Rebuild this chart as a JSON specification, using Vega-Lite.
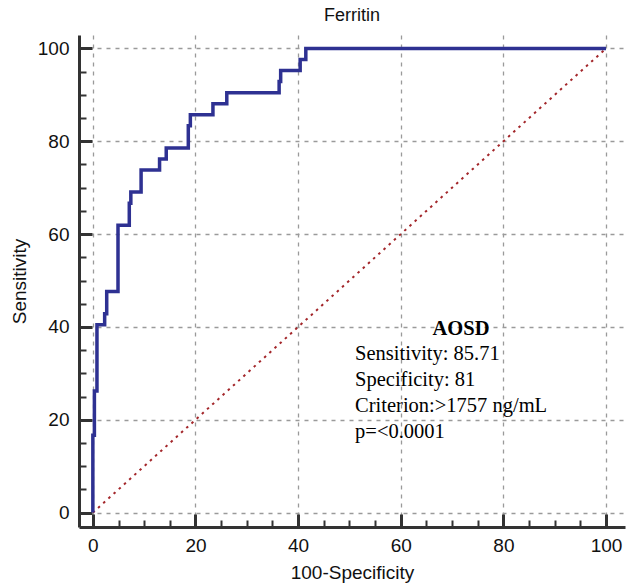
{
  "$schema": "https://vega.github.io/schema/vega-lite/v6.json",
  "width": 546,
  "height": 492,
  "autosize": {"type": "none"},
  "padding": {"left": 79, "top": 35, "right": 2, "bottom": 58},
  "background": "white",
  "title": {"text": "Ferritin", "font": "Liberation Sans", "fontSize": 18, "fontWeight": "normal", "color": "#111", "offset": 10, "anchor": "middle"},
  "config": {"view": {"stroke": null}},
  "datasets": {
    "roc": [
      {"i": 1, "fpr": 0, "sens": 0},
      {"i": 2, "fpr": 0, "sens": 16.67},
      {"i": 3, "fpr": 0.3, "sens": 16.67},
      {"i": 4, "fpr": 0.3, "sens": 26.19},
      {"i": 5, "fpr": 0.8, "sens": 26.19},
      {"i": 6, "fpr": 0.8, "sens": 40.48},
      {"i": 7, "fpr": 2.3, "sens": 40.48},
      {"i": 8, "fpr": 2.3, "sens": 42.86},
      {"i": 9, "fpr": 2.7, "sens": 42.86},
      {"i": 10, "fpr": 2.7, "sens": 47.62},
      {"i": 11, "fpr": 4.9, "sens": 47.62},
      {"i": 12, "fpr": 4.9, "sens": 61.9},
      {"i": 13, "fpr": 7.1, "sens": 61.9},
      {"i": 14, "fpr": 7.1, "sens": 66.67},
      {"i": 15, "fpr": 7.4, "sens": 66.67},
      {"i": 16, "fpr": 7.4, "sens": 69.05},
      {"i": 17, "fpr": 9.4, "sens": 69.05},
      {"i": 18, "fpr": 9.4, "sens": 73.81},
      {"i": 19, "fpr": 13.0, "sens": 73.81},
      {"i": 20, "fpr": 13.0, "sens": 76.19},
      {"i": 21, "fpr": 14.3, "sens": 76.19},
      {"i": 22, "fpr": 14.3, "sens": 78.57},
      {"i": 23, "fpr": 18.6, "sens": 78.57},
      {"i": 24, "fpr": 18.6, "sens": 83.33},
      {"i": 25, "fpr": 19.0, "sens": 83.33},
      {"i": 26, "fpr": 19.0, "sens": 85.71},
      {"i": 27, "fpr": 23.4, "sens": 85.71},
      {"i": 28, "fpr": 23.4, "sens": 88.1},
      {"i": 29, "fpr": 26.1, "sens": 88.1},
      {"i": 30, "fpr": 26.1, "sens": 90.48},
      {"i": 31, "fpr": 36.3, "sens": 90.48},
      {"i": 32, "fpr": 36.3, "sens": 92.86},
      {"i": 33, "fpr": 36.6, "sens": 92.86},
      {"i": 34, "fpr": 36.6, "sens": 95.24},
      {"i": 35, "fpr": 40.4, "sens": 95.24},
      {"i": 36, "fpr": 40.4, "sens": 97.62},
      {"i": 37, "fpr": 41.5, "sens": 97.62},
      {"i": 38, "fpr": 41.5, "sens": 100},
      {"i": 39, "fpr": 100, "sens": 100}
    ],
    "diag": [
      {"fpr": 0, "sens": 0},
      {"fpr": 100, "sens": 100}
    ],
    "head": [
      {"fpr": 71.75, "sens": 39.56, "label": "AOSD"}
    ],
    "notes": [
      {"fpr": 51.1, "sens": 34.18, "label": "Sensitivity: 85.71"},
      {"fpr": 51.1, "sens": 28.58, "label": "Specificity: 81"},
      {"fpr": 51.1, "sens": 22.98, "label": "Criterion:>1757 ng/mL"},
      {"fpr": 51.1, "sens": 17.38, "label": "p=<0.0001"}
    ]
  },
  "encoding": {
    "x": {
      "field": "fpr", "type": "quantitative",
      "scale": {"domain": [-2.7, 103.7], "nice": false, "zero": false},
      "axis": {
        "title": "100-Specificity",
        "titleFont": "Liberation Sans", "titleFontSize": 19, "titleFontWeight": "normal", "titleColor": "#111", "titlePadding": 8,
        "values": [0,5,10,15,20,25,30,35,40,45,50,55,60,65,70,75,80,85,90,95,100],
        "labelExpr": "datum.value % 20 === 0 ? datum.label : ''",
        "labelFont": "Liberation Sans", "labelFontSize": 19, "labelColor": "#111", "labelPadding": 22,
        "labelFlush": false,
        "domainColor": "#333", "domainWidth": 3,
        "tickColor": "#333",
        "tickSize": {"condition": {"test": "datum.value % 20 === 0", "value": -13}, "value": -7},
        "tickWidth": {"condition": {"test": "datum.value % 20 === 0", "value": 3}, "value": 2},
        "grid": true,
        "gridColor": "#9a9a9a", "gridDash": [4, 5], "gridWidth": 1.3,
        "gridOpacity": {"condition": {"test": "datum.value % 20 === 0", "value": 1}, "value": 0}
      }
    },
    "y": {
      "field": "sens", "type": "quantitative",
      "scale": {"domain": [-3.1, 102.9], "nice": false, "zero": false},
      "axis": {
        "title": "Sensitivity",
        "titleFont": "Liberation Sans", "titleFontSize": 19, "titleFontWeight": "normal", "titleColor": "#111", "titlePadding": 8,
        "values": [0,5,10,15,20,25,30,35,40,45,50,55,60,65,70,75,80,85,90,95,100],
        "labelExpr": "datum.value % 20 === 0 ? datum.label : ''",
        "labelFont": "Liberation Sans", "labelFontSize": 19, "labelColor": "#111", "labelPadding": 23,
        "labelFlush": false,
        "domainColor": "#333", "domainWidth": 3,
        "tickColor": "#333",
        "tickSize": {"condition": {"test": "datum.value % 20 === 0", "value": -13}, "value": -7},
        "tickWidth": {"condition": {"test": "datum.value % 20 === 0", "value": 3}, "value": 2},
        "grid": true,
        "gridColor": "#9a9a9a", "gridDash": [4, 5], "gridWidth": 1.3,
        "gridOpacity": {"condition": {"test": "datum.value % 20 === 0", "value": 1}, "value": 0}
      }
    }
  },
  "layer": [
    {
      "data": {"name": "diag"},
      "mark": {"type": "line", "color": "#a3262a", "strokeWidth": 2, "strokeDash": [2.5, 4.5]}
    },
    {
      "data": {"name": "roc"},
      "mark": {"type": "line", "color": "#2e3192", "strokeWidth": 3.5, "strokeJoin": "miter"},
      "encoding": {"order": {"field": "i", "type": "quantitative"}}
    },
    {
      "data": {"name": "head"},
      "mark": {"type": "text", "font": "Liberation Serif", "fontSize": 20.5, "fontWeight": "bold", "align": "center", "baseline": "middle", "color": "#000"},
      "encoding": {"text": {"field": "label"}}
    },
    {
      "data": {"name": "notes"},
      "mark": {"type": "text", "font": "Liberation Serif", "fontSize": 20.5, "align": "left", "baseline": "middle", "color": "#000"},
      "encoding": {"text": {"field": "label"}}
    }
  ]
}
